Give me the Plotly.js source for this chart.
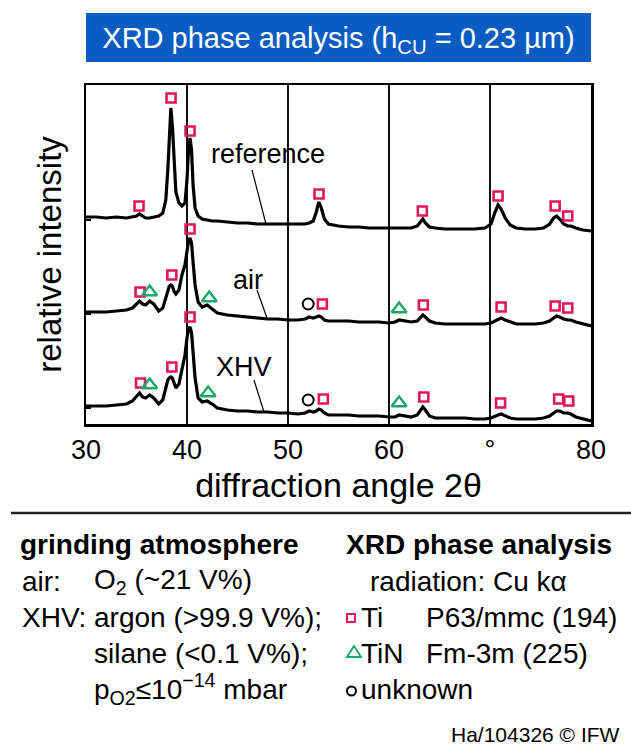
<!DOCTYPE html>
<html>
<head>
<meta charset="utf-8">
<script src="https://cdn.plot.ly/plotly-3.0.1.min.js"></script>
<style>html,body{margin:0;padding:0;background:#fff;}#chart{width:631px;height:745px;}</style>
</head>
<body>
<div id="chart"></div>
<script>
// diffraction angle 2θ (degrees)
const twoTheta = [30,31,32,33,34,34.6,35.0,35.3,35.6,35.9,36.3,36.7,37.2,37.6,37.9,38.1,38.25,38.4,38.55,38.7,38.9,39.2,39.5,39.8,40.0,40.15,40.3,40.45,40.6,40.8,41.1,41.5,42.0,42.5,43.0,44,45,46,47,48,49,50,51,51.7,52.1,52.5,52.8,53.05,53.3,53.6,54.0,55,56,57,58,59,60,60.6,61.0,61.5,62.2,62.8,63.1,63.35,63.6,64.0,64.6,65.5,66.5,67.5,68.5,69.5,70.1,70.5,70.8,71.1,71.5,72.0,72.6,73.5,74.5,75.3,75.9,76.3,76.6,76.9,77.3,77.7,78.0,78.5,79.2,80];

// relative intensity (arbitrary units, patterns offset vertically)
const intensityReference = [211,211,210,211,210,211,212,214,212,210,210,211,212,215,228,258,298,320,303,268,236,225,222,225,248,278,290,278,243,220,212,209,208,207,207,206,205,205,204,204,204,204,204,204,205,207,216,226,220,209,204,202,201,201,200,200,200,200,200,200,200,202,206,209,205,201,200,199,199,199,199,200,204,216,223,219,210,203,200,199,199,200,204,210,212,209,204,202,202,200,198,197];
const intensityAir = [116,116,116,117,118,120,124,127,124,123,127,124,117,120,130,138,142,143,142,137,134,138,153,163,178,187,190,185,166,143,126,121,123,119,115,113,112,111,110,109,109,108,108,109,111,110,111,112,111,108,107,107,107,106,106,106,105,106,108,107,106,107,110,113,111,107,105,104,104,104,104,104,105,107,109,110,108,106,104,104,104,105,107,110,112,111,109,108,108,106,104,102];
const intensityXHV = [22,22,22,23,24,27,32,35,31,30,33,30,24,28,40,48,50,51,50,45,40,44,58,73,90,99,101,95,76,50,30,26,27,24,20,18,17,17,16,16,15,15,14,15,17,16,17,19,18,15,13,13,13,12,12,12,11,11,13,12,11,13,17,21,18,12,10,10,10,10,9,9,10,12,13,14,12,10,9,9,9,10,12,15,17,17,15,15,14,11,9,7];

// phase markers
const tiX = [35.25,38.42,40.3,53.07,63.3,70.8,76.45,77.7, 35.35,38.5,40.3,53.4,63.4,71.1,76.45,77.7, 35.4,38.5,40.3,53.5,63.45,71.05,76.8,77.8];
const tiY = [222,330,297,234,217,232,222,212, 136,153,199,124,123,121,122,120, 45,61,111,29,31,25,29,27];
const tinX = [36.3,42.2,61.0, 36.3,42.1,61.0];
const tinY = [136,130,119, 43,35,25];
const unknownX = [52.0, 52.0];
const unknownY = [124, 28];

// x-axis tick labels
const tickVals = [30,40,50,60,70,80];
const tickText = ['30','40','50','60','°','80'];
// baseline tick positions on the intensity axis
const baseTicks = [20,114,208];

// curve labels
const curveLabels = ['reference','air','XHV'];
const labelX = [48.0, 46.05, 45.65];
const labelY = [274, 148, 61];
const leaderX0 = [46.44, 46.93, 46.63];
const leaderY0 = [258, 138, 48];
const leaderX1 = [47.82, 47.92, 47.62];
const leaderY1 = [204, 110, 16];

const FONT = '"Liberation Sans", Arial, Helvetica, sans-serif';
const RED = '#e2175a';
const GREEN = '#17a86a';

const lineStyle = {color:'#000', width:3.2};
const traces = [
  {x: twoTheta, y: intensityReference, mode:'lines', line: lineStyle, name:'reference', hoverinfo:'skip'},
  {x: twoTheta, y: intensityAir, mode:'lines', line: lineStyle, name:'air', hoverinfo:'skip'},
  {x: twoTheta, y: intensityXHV, mode:'lines', line: lineStyle, name:'XHV', hoverinfo:'skip'},
  {x: tiX, y: tiY, mode:'markers', name:'Ti', marker:{symbol:'square-open', size:9, color:RED, line:{width:2.6, color:RED}}},
  {x: tinX, y: tinY, mode:'markers', name:'TiN', marker:{symbol:'triangle-up-open', size:13, color:GREEN, line:{width:2.4, color:GREEN}}},
  {x: unknownX, y: unknownY, mode:'markers', name:'unknown', marker:{symbol:'circle-open', size:11, color:'#000', line:{width:2, color:'#000'}}}
];

// plot area pixel frame helpers
const L = 86, R = 591, T = 85, B = 424;
const px = v => (v - L) / (R - L);
const py = v => (B - v) / (B - T);

const shapes = [
  {type:'rect', xref:'paper', yref:'paper', x0:px(86), x1:px(591), y0:py(62), y1:py(13), fillcolor:'#0a5cc2', line:{width:0}, layer:'below'},
  {type:'line', xref:'paper', yref:'paper', x0:px(11), x1:px(631), y0:py(513), y1:py(513), line:{color:'#222', width:2.5}},
  {type:'rect', xref:'paper', yref:'paper', x0:px(347), x1:px(355), y0:py(622), y1:py(614), line:{color:RED, width:2}},
  {type:'path', xref:'paper', yref:'paper', path:`M ${px(347)} ${py(657)} L ${px(354)} ${py(646)} L ${px(361)} ${py(657)} Z`, line:{color:GREEN, width:2}},
  {type:'circle', xref:'paper', yref:'paper', x0:px(347), x1:px(356), y0:py(695.5), y1:py(686.5), line:{color:'#000', width:2}}
];
for (let i = 0; i < curveLabels.length; i++) {
  shapes.push({type:'line', xref:'x', yref:'y', x0:leaderX0[i], y0:leaderY0[i], x1:leaderX1[i], y1:leaderY1[i], line:{color:'#000', width:1.2}});
}

const annotations = [];
for (let i = 0; i < curveLabels.length; i++) {
  annotations.push({x:labelX[i], y:labelY[i], xref:'x', yref:'y', text:curveLabels[i], showarrow:false, font:{size:27, color:'#000', family:FONT}, xanchor:'center', yanchor:'middle'});
}
const txt = (x, y, text, opts) => Object.assign({x:px(x), y:py(y), xref:'paper', yref:'paper', text:text, showarrow:false, xanchor:'left', yanchor:'middle', font:{size:28, color:'#000', family:FONT}}, opts||{});
annotations.push(
  txt(18, 544, '<b>grinding atmosphere</b>'),
  txt(344, 544, '<b>XRD phase analysis</b>'),
  txt(20, 581, 'air:'),
  txt(92, 581, 'O<sub>2</sub> (~21 V%)'),
  txt(368, 581, 'radiation: Cu kα'),
  txt(20, 617, 'XHV:'),
  txt(92, 617, 'argon (>99.9 V%);'),
  txt(359, 617, 'Ti'),
  txt(424, 617, 'P63/mmc (194)'),
  txt(92, 653, 'silane (<0.1 V%);'),
  txt(359, 653, 'TiN'),
  txt(424, 653, 'Fm-3m (225)'),
  txt(92, 689, 'p<sub>O2</sub>≤10<sup>−14</sup> mbar'),
  txt(359, 689, 'unknown'),
  txt(622, 734, 'Ha/104326 © IFW', {xanchor:'right', font:{size:21, color:'#000', family:FONT}})
);

const layout = {
  width: 631, height: 745,
  margin: {l:L, r:631-R, t:T, b:745-B, pad:0},
  paper_bgcolor:'#fff', plot_bgcolor:'#fff',
  showlegend:false,
  font:{family:FONT, color:'#000'},
  title:{text:'XRD phase analysis (h<sub>CU</sub> = 0.23 µm)', font:{size:29, color:'#fff', family:FONT}, xref:'container', yref:'container', x:338.5/631, xanchor:'center', y:1-38/745, yanchor:'middle'},
  xaxis:{range:[30,80], tickvals:tickVals, ticktext:tickText, tickfont:{size:27, family:FONT}, ticks:'', showgrid:true, gridcolor:'#111', gridwidth:1.3, showline:true, linecolor:'#000', linewidth:2.5, mirror:true, zeroline:false,
    title:{text:'diffraction angle 2θ', font:{size:34, family:FONT}, standoff:10}, automargin:false},
  yaxis:{range:[4,343], tickvals:baseTicks, ticks:'inside', ticklen:5, tickwidth:1.5, tickcolor:'#000', showticklabels:false, showgrid:false, showline:true, linecolor:'#000', linewidth:2.5, mirror:true, zeroline:false,
    title:{text:'relative intensity', font:{size:33, family:FONT}, standoff:12}, automargin:false},
  shapes: shapes,
  annotations: annotations
};

Plotly.newPlot('chart', traces, layout, {displayModeBar:false, staticPlot:true});
</script>
</body>
</html>
